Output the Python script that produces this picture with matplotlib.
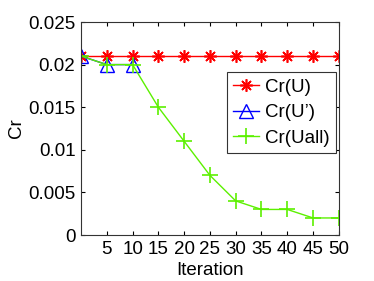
import matplotlib
matplotlib.use('Agg')
import matplotlib.pyplot as plt

plt.rcParams['font.family'] = ['Liberation Sans', 'DejaVu Sans']
plt.rcParams['font.size'] = 13.5

# data
it_all = [0, 5, 10, 15, 20, 25, 30, 35, 40, 45, 50]
cr_u = [0.021] * 11
it_u2 = [0, 5, 10]
cr_u2 = [0.021, 0.020, 0.020]
cr_uall = [0.021, 0.020, 0.020, 0.015, 0.011, 0.007, 0.004, 0.003, 0.003, 0.002, 0.002]
xticks = [5, 10, 15, 20, 25, 30, 35, 40, 45, 50]
yticks = [0, 0.005, 0.01, 0.015, 0.02, 0.025]
ytick_labels = ['0', '0.005', '0.01', '0.015', '0.02', '0.025']

fig = plt.figure(figsize=(3.74, 2.81), dpi=100)
ax = fig.add_axes([0.2166, 0.1637, 0.6894, 0.758])

ax.plot(it_all, cr_u, color='red', marker=(8, 2, 0), markersize=9, markeredgewidth=1.2,
        linewidth=1, label='Cr(U)')
ax.plot(it_u2, cr_u2, color='blue', marker='^', markersize=10.5, markerfacecolor='none',
        linewidth=1, label="Cr(U’)")
ax.plot(it_all, cr_uall, color='#5cf000', marker='+', markersize=11, markeredgewidth=1.2,
        linewidth=1, label='Cr(Uall)')

ax.set_xlim(0, 50)
ax.set_ylim(0, 0.025)
ax.set_xticks(xticks)
ax.set_yticks(yticks)
ax.set_yticklabels(ytick_labels)
ax.tick_params(direction='in', length=3, top=True, right=True, pad=4)
for s in ax.spines.values():
    s.set_color('#333333')
    s.set_linewidth(0.8)

ax.set_xlabel('Iteration', labelpad=3)
ax.set_ylabel('Cr', labelpad=2)

leg = ax.legend(loc='upper right', bbox_to_anchor=(0.99, 0.765), fancybox=False,
                edgecolor='#333333', framealpha=1, handlelength=1.4, handletextpad=0.3,
                borderpad=0.35, labelspacing=0.45, borderaxespad=0)
leg.get_frame().set_linewidth(0.8)

fig.savefig('out.png', dpi=100)
